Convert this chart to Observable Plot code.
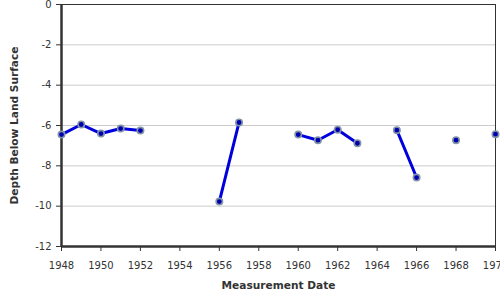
<!DOCTYPE html>
<html>
<head>
<meta charset="utf-8">
<script src="https://cdn.jsdelivr.net/npm/d3@7"></script>
<script src="https://cdn.jsdelivr.net/npm/@observablehq/plot@0.6"></script>
<style>
body { margin: 0; background: white; }
</style>
</head>
<body>
<div id="chart"></div>
<script>
const years = [1948, 1949, 1950, 1951, 1952, 1953, 1954, 1955, 1956, 1957, 1958, 1959,
               1960, 1961, 1962, 1963, 1964, 1965, 1966, 1967, 1968, 1969, 1970];
const depths = [-6.45, -5.95, -6.4, -6.15, -6.25, null, null, null, -9.77, -5.85, null, null,
                -6.45, -6.73, -6.21, -6.88, null, -6.23, -8.58, null, -6.73, null, -6.43];
const xTicks = [1948, 1950, 1952, 1954, 1956, 1958, 1960, 1962, 1964, 1966, 1968, 1970];
const yTicks = [0, -2, -4, -6, -8, -10, -12];
const xLabel = "Measurement Date";
const yLabel = "Depth Below Land Surface";

const data = years.map((y, i) => ({year: y, depth: depths[i]}));
const measured = data.filter(d => d.depth != null);

const plot = Plot.plot({
  width: 500,
  height: 300,
  marginLeft: 61,
  marginRight: 5,
  marginTop: 4,
  marginBottom: 54,
  style: {fontFamily: "DejaVu Sans, Verdana, sans-serif", fontSize: "10px", color: "#333", background: "white", overflow: "visible"},
  x: {domain: [xTicks[0], xTicks[xTicks.length - 1]]},
  y: {domain: [yTicks[yTicks.length - 1], yTicks[0]]},
  marks: [
    Plot.gridY(yTicks, {stroke: "#ccc", strokeOpacity: 1}),
    Plot.frame({stroke: "#333", strokeWidth: 1}),
    Plot.ruleX([xTicks[0]], {stroke: "#333", strokeWidth: 2.5}),
    Plot.ruleY([yTicks[yTicks.length - 1]], {stroke: "#333", strokeWidth: 2.5}),
    Plot.axisX(xTicks, {tickFormat: d => `${d}`, tickSize: 5, tickPadding: 10, label: null, stroke: "#333"}),
    Plot.axisY(yTicks, {tickFormat: d => `${d}`, tickSize: 5, tickPadding: 5, label: null, stroke: "#333"}),
    Plot.line(data, {x: "year", y: "depth", stroke: "#0000dd", strokeWidth: 3}),
    Plot.dot(measured, {x: "year", y: "depth", r: 3.2, fill: "#0000b0", stroke: "#8294a6", strokeWidth: 1.6}),
    Plot.text([yLabel], {frameAnchor: "left", dx: -47, rotate: -90, textAnchor: "middle", fontWeight: "bold", fontSize: 10.6, fill: "#333"}),
    Plot.text([xLabel], {frameAnchor: "bottom", dy: 42, textAnchor: "middle", fontWeight: "bold", fontSize: 10.6, fill: "#333"})
  ]
});
document.getElementById("chart").appendChild(plot);
</script>
</body>
</html>
